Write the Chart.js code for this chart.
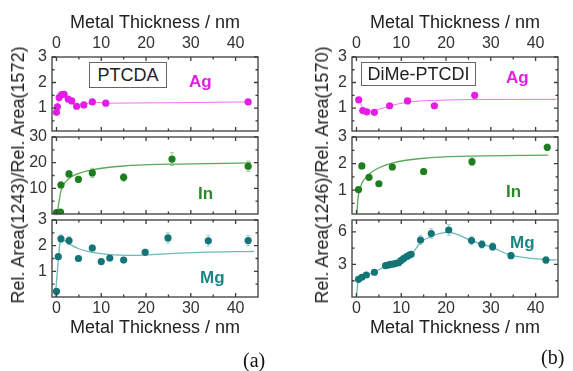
<!DOCTYPE html>
<html><head><meta charset="utf-8">
<script src="https://cdn.jsdelivr.net/npm/chart.js@4/dist/chart.umd.min.js"></script>
<style>
html,body{margin:0;padding:0;background:#fff}
body{width:573px;height:371px;overflow:hidden;position:relative;font-family:"Liberation Sans",Arial,sans-serif}
canvas{position:absolute}
.ytitle{position:absolute;white-space:nowrap;color:#222;font-size:18px;line-height:1;transform:translate(-50%,-50%) rotate(-90deg)}
.box{position:absolute;border:1.5px solid #666;box-sizing:border-box;font-size:18px;color:#222;display:flex;align-items:center;justify-content:center;background:#fff}
.m{position:absolute;font-weight:bold;font-size:17px;line-height:1;white-space:nowrap}
.lab{position:absolute;font-family:"Liberation Serif","Times New Roman",serif;font-size:20px;line-height:1;color:#111}
</style></head><body>
<canvas id="aAg" width="262" height="135" style="left:0;top:0"></canvas>
<canvas id="aIn" width="262" height="93" style="left:0;top:125px"></canvas>
<canvas id="aMg" width="262" height="132" style="left:0;top:208px"></canvas>
<canvas id="bAg" width="262" height="135" style="left:300px;top:0"></canvas>
<canvas id="bIn" width="262" height="93" style="left:300px;top:125px"></canvas>
<canvas id="bMg" width="262" height="132" style="left:300px;top:208px"></canvas>

<div class="ytitle" style="left:18px;top:175px">Rel. Area(1243)/Rel. Area(1572)</div>
<div class="ytitle" style="left:322px;top:175px">Rel. Area(1246)/Rel. Area(1570)</div>
<div class="box" style="left:89px;top:62px;width:78px;height:26px">PTCDA</div>
<div class="box" style="left:361px;top:62px;width:115px;height:24px">DiMe-PTCDI</div>
<div class="m" style="left:189px;top:73px;color:#e41de4">Ag</div>
<div class="m" style="left:198px;top:185px;color:#2a8a2a">In</div>
<div class="m" style="left:200px;top:269px;color:#1a8585">Mg</div>
<div class="m" style="left:506px;top:69px;color:#e41de4">Ag</div>
<div class="m" style="left:506px;top:183px;color:#2a8a2a">In</div>
<div class="m" style="left:510px;top:234px;color:#1a8585">Mg</div>
<div class="lab" style="left:243px;top:350px">(a)</div>
<div class="lab" style="left:541px;top:347px">(b)</div>

<script>
// ---------- tick labels ----------
const thicknessTicks = [0, 10, 20, 30, 40];
const thicknessMinor = [5, 15, 25, 35];
const agTicks = [1, 2, 3];
const agMinor = [0.5, 1.5, 2.5];
const aInTicks = [10, 20, 30];
const aInMinor = [5, 15, 25];
const aMgTicks = [1, 2, 3];
const aMgMinor = [0.5, 1.5, 2.5];
const bInTicks = [1, 2, 3];
const bInMinor = [0.5, 1.5, 2.5];
const bMgTicks = [3, 6];
const bMgMinor = [1.5, 4.5];

// ---------- (a) PTCDA ----------
const aAgX = [0.0, 0.2, 0.6, 1.15, 1.7, 2.6, 3.4, 4.5, 6.1, 8.0, 11.0, 42.8];
const aAgY = [0.83, 1.05, 1.41, 1.53, 1.54, 1.35, 1.28, 1.07, 1.12, 1.24, 1.19, 1.24];

const aInX = [0.0, 0.9, 1.0, 2.8, 4.9, 8.0, 15.0, 25.8, 42.8];
const aInY = [0.5, 0.7, 11.3, 15.6, 13.5, 16.0, 14.3, 21.4, 18.6];
const aInErr = [0.8, 0.8, 1.2, 1.2, 1.2, 1.8, 1.5, 2.5, 2.0];
const aInFitX = [0.15, 0.45, 1, 1.8, 2.8, 4.5, 8, 15, 25, 43.5];
const aInFitY = [0, 3.5, 9, 12, 13.8, 15.5, 17.2, 18.7, 19.4, 19.9];

const aMgX = [0.0, 0.4, 1.0, 2.8, 4.9, 8.0, 10.0, 11.9, 15.0, 19.8, 24.9, 33.9, 42.8];
const aMgY = [0.22, 1.57, 2.27, 2.2, 1.5, 1.91, 1.38, 1.52, 1.44, 1.74, 2.3, 2.19, 2.2];
const aMgErr = [0.06, 0.1, 0.15, 0.15, 0.1, 0.12, 0.1, 0.1, 0.1, 0.12, 0.2, 0.2, 0.2];
const aMgFitX = [-0.3, 0.3, 0.7, 1.2, 2.3, 3, 5, 7.4, 11.9, 17, 22, 31.9, 44.1];
const aMgFitY = [0, 1.2, 2.0, 2.25, 2.13, 2.05, 1.88, 1.76, 1.65, 1.62, 1.66, 1.74, 1.78];

// ---------- (b) DiMe-PTCDI ----------
const bAgX = [0.5, 1.4, 2.3, 4.0, 7.4, 11.4, 17.4, 26.4];
const bAgY = [1.32, 0.9, 0.85, 0.83, 1.09, 1.28, 1.09, 1.5];
const bAgErr = [0.1, 0.04, 0.04, 0.04, 0.05, 0.05, 0.05, 0.08];
const bAgFitX = [0.2, 0.5, 1.5, 3, 5, 7.4, 11.4, 17.4, 26, 44.7];
const bAgFitY = [1.4, 1.33, 1.0, 0.88, 0.95, 1.08, 1.23, 1.3, 1.33, 1.34];

const bInX = [0.45, 1.2, 2.8, 5.0, 8.0, 15.0, 25.8, 42.6];
const bInY = [1.02, 1.91, 1.48, 1.24, 1.87, 1.7, 2.07, 2.61];
const bInErr = [0.08, 0.1, 0.08, 0.08, 0.1, 0.1, 0.14, 0.12];
const bInFitX = [0.1, 0.3, 1, 2.5, 4, 8, 15, 25, 42.8];
const bInFitY = [0.1, 0.62, 1.17, 1.55, 1.75, 2.02, 2.2, 2.28, 2.32];

const bMgX = [0.45, 1.2, 2.2, 4.0, 6.5, 7.1, 7.6, 8.2, 8.8, 9.4, 9.9, 10.5, 11.2, 11.8, 12.2, 14.3, 16.7, 20.6, 25.7, 28.0, 30.4, 34.5, 42.3];
const bMgY = [1.63, 1.82, 2.03, 2.28, 2.89, 2.95, 3.02, 3.04, 3.11, 3.16, 3.35, 3.53, 3.72, 3.87, 3.94, 5.25, 5.85, 6.18, 5.2, 4.86, 4.64, 3.81, 3.41];
const bMgErr = [0.2, 0.2, 0.2, 0.2, 0.2, 0.2, 0.2, 0.2, 0.2, 0.2, 0.2, 0.25, 0.25, 0.25, 0.25, 0.4, 0.45, 0.5, 0.4, 0.35, 0.35, 0.3, 0.3];
const bMgFitX = [0, 0.45, 1.2, 2.2, 4, 6.5, 9.4, 12.2, 14.3, 16.7, 20.6, 25.7, 28, 30.4, 34.5, 42.3, 44.7];
const bMgFitY = [0.1, 1.63, 1.85, 2.03, 2.3, 2.85, 3.15, 3.9, 5.0, 5.6, 5.95, 5.2, 4.86, 4.55, 3.85, 3.45, 3.42];

// ---------- colours ----------
const MAG = '#e41de4', MAG_L = '#f070f0';
const GRN = '#1e7d1e', GRN_L = '#5aa85a', GRN_E = '#9cc99c';
const TEA = '#137575', TEA_L = '#6ab9b9', TEA_E = '#9fcfcf';

const pts = (xs, ys) => xs.map((x, i) => ({x, y: ys[i]}));

const frameTicks = {
  id: 'frameTicks',
  beforeDatasetsDraw(chart) {
    const {ctx, scales: {x, y}} = chart;
    ctx.save();
    chart.data.datasets.forEach(ds => {
      if (!ds.errorBars) return;
      ctx.strokeStyle = ds.errorColor; ctx.lineWidth = 1;
      ds.data.forEach((p, i) => {
        const e = ds.errorBars[i];
        const px = x.getPixelForValue(p.x);
        const y1 = y.getPixelForValue(p.y - e), y2 = y.getPixelForValue(p.y + e);
        ctx.beginPath();
        ctx.moveTo(px, y1); ctx.lineTo(px, y2);
        ctx.moveTo(px - 2, y1); ctx.lineTo(px + 2, y1);
        ctx.moveTo(px - 2, y2); ctx.lineTo(px + 2, y2);
        ctx.stroke();
      });
    });
    ctx.restore();
  },
  afterDraw(chart, args, opts) {
    const {ctx, chartArea: a, scales: {x, y}} = chart;
    ctx.save();
    ctx.strokeStyle = '#3c3c3c'; ctx.lineWidth = 1.3;
    ctx.beginPath();
    const xt = (vals, len) => vals.forEach(v => {
      const p = x.getPixelForValue(v);
      ctx.moveTo(p, a.top); ctx.lineTo(p, a.top + len);
      ctx.moveTo(p, a.bottom); ctx.lineTo(p, a.bottom - len);
    });
    const yt = (vals, len) => vals.forEach(v => {
      const p = y.getPixelForValue(v);
      ctx.moveTo(a.left, p); ctx.lineTo(a.left + len, p);
      ctx.moveTo(a.right, p); ctx.lineTo(a.right - len, p);
    });
    xt(thicknessTicks, 4); xt(thicknessMinor, 2.5);
    yt(opts.yMajor, 4); yt(opts.yMinor, 2.5);
    ctx.stroke();
    ctx.strokeRect(a.left, a.top, a.right - a.left, a.bottom - a.top);
    ctx.restore();
  }
};
Chart.register(frameTicks);

const FONT = '"Liberation Sans", Arial, sans-serif';
const noPad = s => { s.paddingTop = 0; s.paddingBottom = 0; s.paddingLeft = 0; s.paddingRight = 0; };

function makeChart(id, c) {
  const xAxis = {
    type: 'linear', min: -1, max: 45, display: !!c.xPos, position: c.xPos || 'bottom',
    grid: {display: false, drawTicks: false}, border: {display: false},
    ticks: {font: {family: FONT, size: 16}, color: '#333', padding: c.xPos === 'top' ? 4 : 2, autoSkip: false, maxRotation: 0},
    afterBuildTicks: s => { s.ticks = thicknessTicks.map(v => ({value: v})); },
    afterFit: s => { s.height = c.xH || 0; noPad(s); },
    title: {display: true, text: 'Metal Thickness / nm', color: '#222', font: {family: FONT, size: 18},
            padding: c.xPos === 'top' ? {top: 12, bottom: 0} : {top: 0, bottom: 1}}
  };
  return new Chart(document.getElementById(id), {
    type: 'scatter',
    data: {datasets: c.datasets},
    options: {
      responsive: false, animation: false, devicePixelRatio: 1,
      layout: {padding: c.padding},
      plugins: {legend: {display: false}, tooltip: {enabled: false}, frameTicks: {yMajor: c.yTicks, yMinor: c.yMinor}},
      scales: {
        x: xAxis,
        y: {
          type: 'linear', min: c.yMin, max: c.yMax, position: 'left',
          grid: {display: false, drawTicks: false}, border: {display: false},
          ticks: {font: {family: FONT, size: 16}, color: '#333', padding: 5, autoSkip: false},
          afterBuildTicks: s => { s.ticks = c.yTicks.map(v => ({value: v})); },
          afterFit: s => { s.width = 52; noPad(s); }
        }
      }
    }
  });
}

const dots = (xs, ys, col, err, ecol) => ({
  data: pts(xs, ys), showLine: false, pointRadius: 3.6, pointBackgroundColor: col,
  pointBorderWidth: 0, borderColor: col, errorBars: err, errorColor: ecol, order: 0
});
const fit = (xs, ys, col, w) => ({
  data: pts(xs, ys), showLine: true, pointRadius: 0, borderColor: col, borderWidth: w || 1.3,
  cubicInterpolationMode: 'monotone', fill: false, order: 1
});

// (a)
makeChart('aAg', {padding: {top: 0, bottom: 2, left: 0, right: 4}, xPos: 'top', xH: 57,
  yMin: 0.1, yMax: 3, yTicks: agTicks, yMinor: agMinor,
  datasets: [fit(aAgX, aAgY, MAG_L, 1), dots(aAgX, aAgY, MAG)]});
makeChart('aIn', {padding: {top: 12, bottom: 2, left: 0, right: 4},
  yMin: 0, yMax: 30, yTicks: aInTicks, yMinor: aInMinor,
  datasets: [fit(aInFitX, aInFitY, GRN_L), dots(aInX, aInY, GRN, aInErr, GRN_E)]});
makeChart('aMg', {padding: {top: 12, bottom: 0, left: 0, right: 4}, xPos: 'bottom', xH: 43,
  yMin: 0, yMax: 3, yTicks: aMgTicks, yMinor: aMgMinor,
  datasets: [fit(aMgFitX, aMgFitY, TEA_L), dots(aMgX, aMgY, TEA, aMgErr, TEA_E)]});
// (b)
makeChart('bAg', {padding: {top: 0, bottom: 2, left: 0, right: 4}, xPos: 'top', xH: 57,
  yMin: 0.1, yMax: 3, yTicks: agTicks, yMinor: agMinor,
  datasets: [fit(bAgFitX, bAgFitY, MAG_L, 1), dots(bAgX, bAgY, MAG, bAgErr, MAG_L)]});
makeChart('bIn', {padding: {top: 12, bottom: 2, left: 0, right: 4},
  yMin: 0.1, yMax: 3, yTicks: bInTicks, yMinor: bInMinor,
  datasets: [fit(bInFitX, bInFitY, GRN_L), dots(bInX, bInY, GRN, bInErr, GRN_E)]});
makeChart('bMg', {padding: {top: 12, bottom: 0, left: 0, right: 4}, xPos: 'bottom', xH: 43,
  yMin: 0, yMax: 7.1, yTicks: bMgTicks, yMinor: bMgMinor,
  datasets: [fit(bMgFitX, bMgFitY, TEA_L), dots(bMgX, bMgY, TEA, bMgErr, TEA_E)]});
</script>
</body></html>
